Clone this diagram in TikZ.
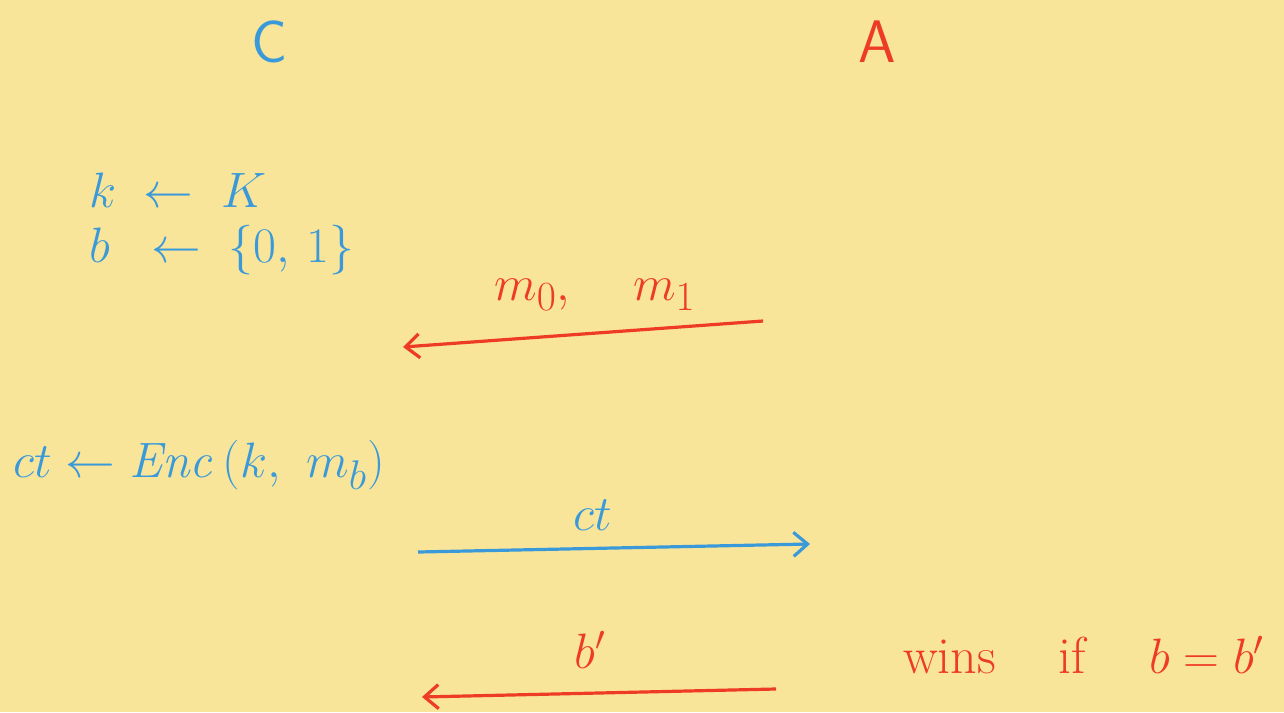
\documentclass[tikz,border=0pt]{standalone}
\usetikzlibrary{arrows.meta}
\definecolor{bgyellow}{HTML}{F9E59A}
\definecolor{penblue}{HTML}{3A9AD9}
\definecolor{penred}{HTML}{EE3B24}
\begin{document}
\begin{tikzpicture}[x=0.5pt,y=-0.5pt,
  bluetxt/.style={text=penblue,font=\fontsize{24}{28}\selectfont},
  redtxt/.style={text=penred,font=\fontsize{26}{30}\selectfont},
  msg/.style={line width=1.6pt,-{Straight Barb[length=7pt,width=12pt]}}]
\fill[bgyellow] (0,0) rectangle (1284,712);
\useasboundingbox (0,0) rectangle (1284,712);
% parties
\node[bluetxt,font=\fontsize{30}{34}\selectfont\sffamily] (chal) at (270,42) {C};
\node[redtxt,font=\fontsize{30}{34}\selectfont\sffamily] (adv) at (877,42) {A};
% key and bit
\node[bluetxt,anchor=west] (keygen) at (82,190) {$k \;\leftarrow\; K$};
\node[bluetxt,anchor=west] (bitgen) at (82,250) {$b \;\;\leftarrow\; \{0,\,1\}$};
% messages
\node[redtxt,font=\fontsize{30}{34}\selectfont] (msgs) at (595,295) {$m_0,\ \ \ m_1$};
\coordinate (m1) at (763,321);
\coordinate (m2) at (403,347);
\draw[msg,penred] (m1) -- (m2);
% ciphertext
\node[bluetxt,anchor=west,font=\fontsize{28}{32}\selectfont] (enc) at (6,465) {$ct \leftarrow \mathit{Enc}\,(k,\ m_b)$};
\node[bluetxt,font=\fontsize{30}{34}\selectfont] (ctlab) at (593,515) {$ct$};
\coordinate (c1) at (418,552);
\coordinate (c2) at (810,544);
\draw[msg,penblue] (c1) -- (c2);
% guess
\node[redtxt] (guess) at (590,650) {$b'$};
\coordinate (g1) at (776,689);
\coordinate (g2) at (422,697);
\draw[msg,penred] (g1) -- (g2);
\node[redtxt,anchor=west] (wins) at (896,655) {wins\ \ \ \ if\ \ \ \ $b = b'$};
\end{tikzpicture}
\end{document}
